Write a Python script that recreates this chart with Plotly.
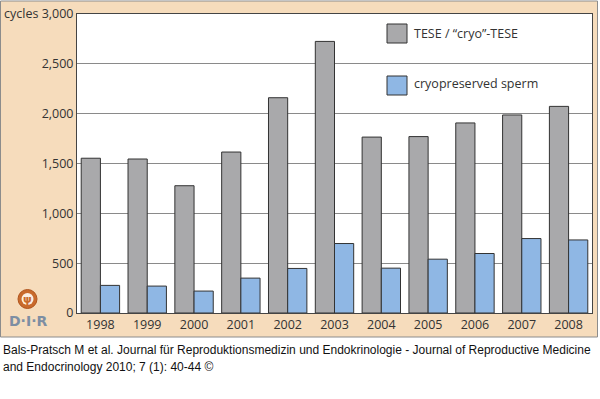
import plotly.graph_objects as go

years = ["1998", "1999", "2000", "2001", "2002", "2003", "2004", "2005", "2006", "2007", "2008"]
tese = [1553, 1545, 1277, 1615, 2160, 2725, 1765, 1770, 1907, 1987, 2073]
cryo_sperm = [277, 270, 220, 350, 447, 697, 450, 540, 597, 747, 733]
y_ticks = [0, 500, 1000, 1500, 2000, 2500, 3000]
y_ticktext = ["0", "500", "1,000", "1,500", "2,000", "2,500", "cycles 3,000"]
legend_names = ["TESE / \u201ccryo\u201d-TESE", "cryopreserved sperm"]

W, H = 600, 399
L, R, T, B = 77, 592, 14, 313
PW, PH = R - L, B - T

def px(x):
    return (x - L) / PW

def py(y):
    return (B - y) / PH

GRAY = "#a9a9ab"
BLUE = "#8fb7e4"
EDGE = "#333333"
TXT = "#333333"
FONT = "Open Sans"
FS = 12.5
ORANGE = "#c96a2c"

fig = go.Figure()
fig.add_trace(go.Bar(x=years, y=tese, name=legend_names[0], marker=dict(color=GRAY, line=dict(color=EDGE, width=1))))
fig.add_trace(go.Bar(x=years, y=cryo_sperm, name=legend_names[1], marker=dict(color=BLUE, line=dict(color=EDGE, width=1))))

shapes = [
    dict(type="rect", xref="paper", yref="paper", x0=px(0.5), x1=px(597.5), y0=py(337), y1=py(1),
         fillcolor="#f6dcbc", line=dict(color="#8c8c8c", width=1), layer="below"),
    dict(type="rect", xref="paper", yref="paper", x0=0, x1=1, y0=0, y1=1,
         fillcolor="white", line=dict(width=0), layer="below"),
    dict(type="rect", xref="paper", yref="paper", x0=px(387), x1=px(407), y0=py(43), y1=py(24),
         fillcolor=GRAY, line=dict(color=EDGE, width=1)),
    dict(type="rect", xref="paper", yref="paper", x0=px(387), x1=px(407), y0=py(95), y1=py(76),
         fillcolor=BLUE, line=dict(color=EDGE, width=1)),
    dict(type="circle", xref="paper", yref="paper", x0=px(18), x1=px(37), y0=py(308.5), y1=py(289.5),
         fillcolor=ORANGE, line=dict(color="#b0551e", width=1)),
    dict(type="circle", xref="paper", yref="paper", x0=px(21.5), x1=px(33.5), y0=py(305), y1=py(293),
         fillcolor="#fbeee2", line=dict(width=0)),
]

annotations = [
    dict(xref="paper", yref="paper", x=px(412), y=py(34), text=legend_names[0], showarrow=False,
         xanchor="left", yanchor="middle", font=dict(family=FONT, size=FS, color=TXT)),
    dict(xref="paper", yref="paper", x=px(412), y=py(84), text=legend_names[1], showarrow=False,
         xanchor="left", yanchor="middle", font=dict(family=FONT, size=FS, color=TXT)),
    dict(xref="paper", yref="paper", x=px(27.5), y=py(299.5), text="<b>\u03c8</b>", showarrow=False,
         xanchor="center", yanchor="middle", font=dict(family="DejaVu Sans", size=11, color=ORANGE)),
    dict(xref="paper", yref="paper", x=px(27.5), y=py(320.5), text="<b>D\u00b7I\u00b7R</b>", showarrow=False,
         xanchor="center", yanchor="middle", font=dict(family="DejaVu Sans", size=14, color="#7d8ea3")),
    dict(xref="paper", yref="paper", x=px(1), y=py(350), showarrow=False, xanchor="left", yanchor="middle",
         text="Bals-Pratsch M et al. Journal f\u00fcr Reproduktionsmedizin und Endokrinologie - Journal of Reproductive Medicine",
         font=dict(family="Liberation Sans", size=12, color="#111111")),
    dict(xref="paper", yref="paper", x=px(1), y=py(367), showarrow=False, xanchor="left", yanchor="middle",
         text="and Endocrinology 2010; 7 (1): 40-44 \u00a9",
         font=dict(family="Liberation Sans", size=12, color="#111111")),
]

fig.update_layout(
    width=W, height=H,
    margin=dict(l=L, r=W - R, t=T, b=H - B, pad=0, autoexpand=False),
    paper_bgcolor="white", plot_bgcolor="rgba(0,0,0,0)",
    barmode="group", bargap=0.18, bargroupgap=0,
    showlegend=False,
    shapes=shapes, annotations=annotations,
    font=dict(family=FONT, size=FS, color=TXT),
)
fig.update_xaxes(type="category", automargin=False, showline=True, linecolor="#444444", linewidth=1, mirror=True,
                 ticks="", tickfont=dict(family=FONT, size=FS, color=TXT), showgrid=False)
fig.update_yaxes(range=[0, 3000], automargin=False, tickvals=y_ticks, ticktext=y_ticktext, showline=True,
                 linecolor="#444444", linewidth=1, mirror=True, ticks="",
                 gridcolor="#8a8a8a", gridwidth=1, zeroline=False,
                 tickfont=dict(family=FONT, size=FS, color=TXT))

fig.write_html("out.html", config={"displayModeBar": False},
               post_script="document.body.style.margin='0';")
